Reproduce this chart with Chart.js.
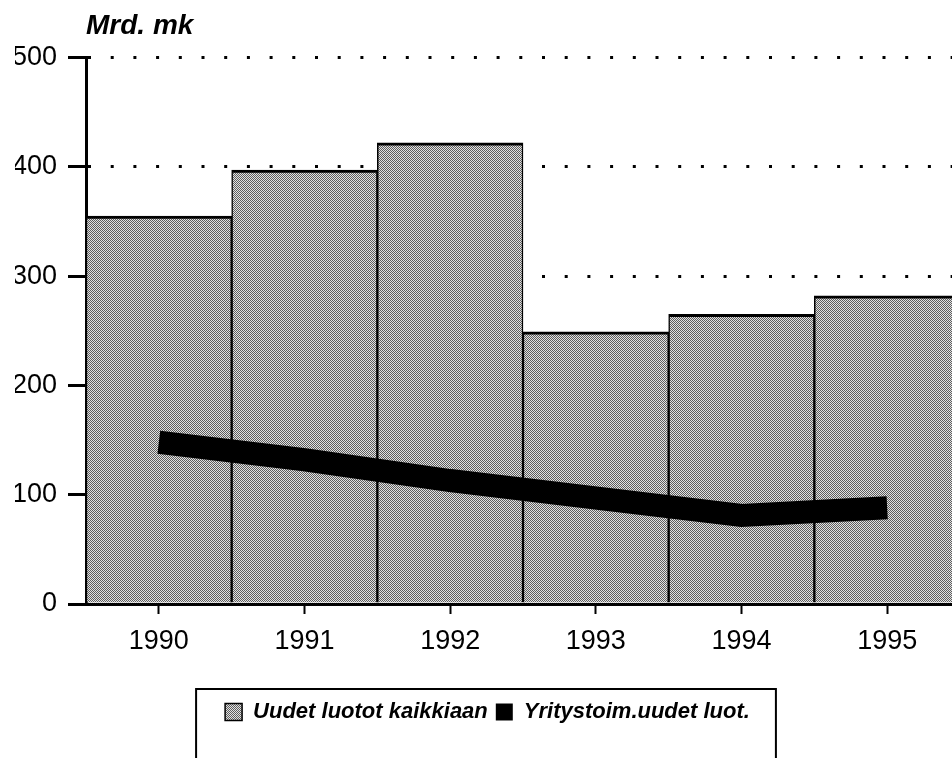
<!DOCTYPE html>
<html>
<head>
<meta charset="utf-8">
<script src="https://cdn.jsdelivr.net/npm/chart.js@4/dist/chart.umd.min.js"></script>
<style>
  html, body { margin: 0; padding: 0; background: #fff; overflow: hidden; }
  #wrap { width: 952px; height: 758px; overflow: hidden; }
</style>
</head>
<body>
<div id="wrap"><canvas id="c" width="960" height="758"></canvas></div>
<script>
const years = ['1990', '1991', '1992', '1993', '1994', '1995'];
const uudetLuotot = [355, 397, 422, 249, 265, 282];
const yritysLuotot = [148, 132, 113, 97, 81, 88];
const yTicks = [0, 100, 200, 300, 400, 500];

const FONT = '"Liberation Sans", Arial, Helvetica, sans-serif';

// stippled grey fill like the scanned original
function stipple(){
  const p = document.createElement('canvas');
  p.width = 4; p.height = 4;
  const g = p.getContext('2d');
  g.fillStyle = '#e2e2e2';
  g.fillRect(0, 0, 4, 4);
  g.fillStyle = '#5e5e5e';
  for(let y = 0; y < 4; y++){
    for(let x = 0; x < 4; x++){
      if((x + y) % 2 === 0) g.fillRect(x, y, 1, 1);
    }
  }
  return g.createPattern(p, 'repeat');
}
const grey = stipple();

const legendBox = {
  id: 'legendBox',
  afterDraw(chart){
    const boxes = chart.legend && chart.legend.legendHitBoxes;
    if(!boxes || !boxes.length) return;
    const first = boxes[0], last = boxes[boxes.length - 1];
    const ctx = chart.ctx;
    const left = first.left - 29;
    const right = last.left + last.width + 26;
    const top = first.top + first.height / 2 - 23;
    ctx.save();
    ctx.strokeStyle = '#000';
    ctx.lineWidth = 2;
    ctx.strokeRect(left, top, right - left, 120);
    ctx.restore();
  }
};

new Chart(document.getElementById('c'), {
  data: {
    labels: years,
    datasets: [
      {
        type: 'bar',
        label: 'Uudet luotot kaikkiaan',
        data: uudetLuotot,
        backgroundColor: grey,
        borderColor: '#000',
        borderWidth: { top: 3, left: 1.5, right: 1.5, bottom: 0 },
        borderSkipped: 'bottom',
        barPercentage: 1,
        categoryPercentage: 1,
        order: 2
      },
      {
        type: 'line',
        label: 'Yritystoim.uudet luot.',
        data: yritysLuotot,
        borderColor: '#000',
        backgroundColor: '#000',
        borderWidth: 23,
        borderCapStyle: 'butt',
        borderJoinStyle: 'miter',
        pointRadius: 0,
        tension: 0,
        fill: false,
        order: 1
      }
    ]
  },
  options: {
    responsive: false,
    animation: false,
    events: [],
    layout: { padding: { left: 15, right: 0, top: 0, bottom: 25 } },
    scales: {
      x: {
        offset: true,
        grid: { offset: false, drawOnChartArea: false, drawTicks: true, tickLength: 10, tickWidth: 2, tickColor: '#000' },
        border: { display: true, color: '#000', width: 3 },
        ticks: { color: '#000', font: { family: FONT, size: 27 }, padding: 11, maxRotation: 0 },
        afterFit(scale){ scale.height = 89; }
      },
      y: {
        min: 0,
        max: 500,
        afterBuildTicks(scale){ scale.ticks = yTicks.map(v => ({ value: v })); },
        grid: { color: '#000', lineWidth: 3, tickLength: 18, tickWidth: 3, tickColor: '#000', tickBorderDash: [] },
        border: { display: true, color: '#000', width: 3, dash: [3, 19.7] },
        ticks: { color: '#000', font: { family: FONT, size: 27 }, padding: 11 },
        afterFit(scale){ scale.width = 71; }
      }
    },
    plugins: {
      title: {
        display: true,
        text: 'Mrd. mk',
        align: 'start',
        fullSize: false,
        color: '#000',
        font: { family: FONT, size: 28, weight: 'bold', style: 'italic' },
        padding: { top: 9, bottom: 15 }
      },
      legend: {
        position: 'bottom',
        labels: {
          color: '#000',
          boxWidth: 17,
          boxHeight: 17,
          padding: 8,
          font: { family: FONT, size: 22, weight: 'bold', style: 'italic' },
          generateLabels(){
            return [
              { text: 'Uudet luotot kaikkiaan', fillStyle: grey, strokeStyle: '#000', lineWidth: 1.5, datasetIndex: 0 },
              { text: 'Yritystoim.uudet luot.', fillStyle: '#000', strokeStyle: '#000', lineWidth: 0, datasetIndex: 1 }
            ];
          }
        }
      },
      tooltip: { enabled: false }
    }
  },
  plugins: [legendBox]
});
</script>
</body>
</html>
